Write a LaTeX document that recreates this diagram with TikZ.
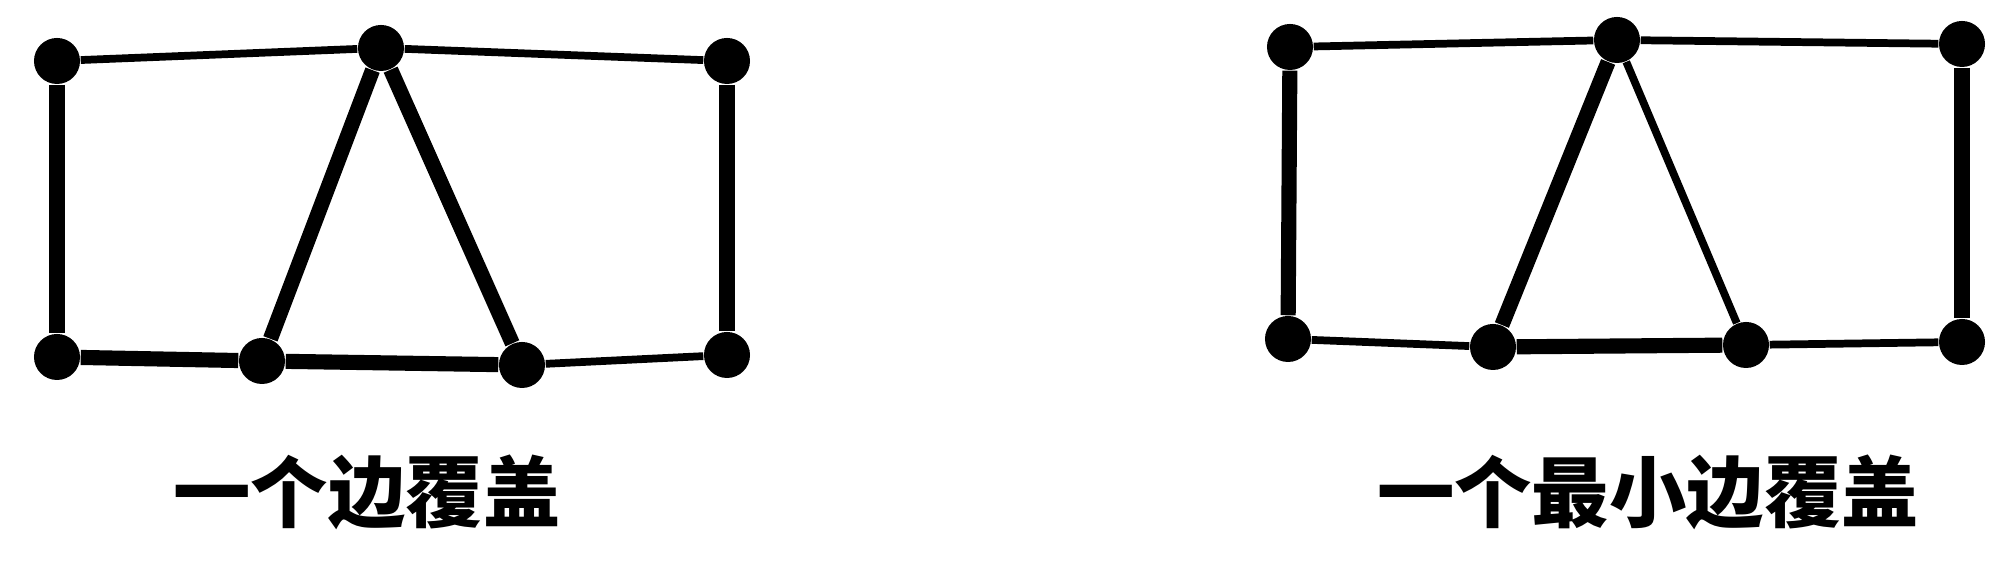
\documentclass[tikz,border=0pt]{standalone}
\usepackage{fontspec}
\newfontfamily\cjk{Noto Sans CJK SC}
\tikzstyle{vertex} = [circle, fill=black, inner sep=0pt, minimum size=0.46cm]
\tikzstyle{thinedge} = [line width=2.2pt]
\tikzstyle{coveredge} = [line width=4.3pt]
\tikzstyle{caption} = [font=\cjk\bfseries\fontsize{22}{26}\selectfont]

\begin{document}
\begin{tikzpicture}[x=0.01cm,y=-0.01cm]
\useasboundingbox (0,0) rectangle (2002,568);
% left graph: an edge cover
\node (v1) at (57,61) [vertex] {};
\node (v2) at (381,48) [vertex] {};
\node (v3) at (727,61) [vertex] {};
\node (v4) at (57,357) [vertex] {};
\node (v5) at (262,361) [vertex] {};
\node (v6) at (522,365) [vertex] {};
\node (v7) at (727,355) [vertex] {};
\draw [thinedge] (v1)--(v2);
\draw [thinedge] (v2)--(v3);
\draw [thinedge] (v6)--(v7);
\draw [coveredge] (v1)--(v4);
\draw [coveredge] (v2)--(v5);
\draw [coveredge] (v2)--(v6);
\draw [coveredge] (v3)--(v7);
\draw [coveredge] (v4)--(v5);
\draw [coveredge] (v5)--(v6);
% right graph: a minimum edge cover
\node (u1) at (1290,47) [vertex] {};
\node (u2) at (1617,40) [vertex] {};
\node (u3) at (1962,44) [vertex] {};
\node (u4) at (1288,339) [vertex] {};
\node (u5) at (1493,347) [vertex] {};
\node (u6) at (1746,345) [vertex] {};
\node (u7) at (1962,342) [vertex] {};
\draw [thinedge] (u1)--(u2);
\draw [thinedge] (u2)--(u3);
\draw [thinedge] (u2)--(u6);
\draw [thinedge] (u4)--(u5);
\draw [thinedge] (u6)--(u7);
\draw [coveredge] (u1)--(u4);
\draw [coveredge] (u2)--(u5);
\draw [coveredge] (u3)--(u7);
\draw [coveredge] (u5)--(u6);
\node (l1) at (367,492) [caption] {一个边覆盖};
\node (l2) at (1648,492) [caption] {一个最小边覆盖};
\end{tikzpicture}
\end{document}
